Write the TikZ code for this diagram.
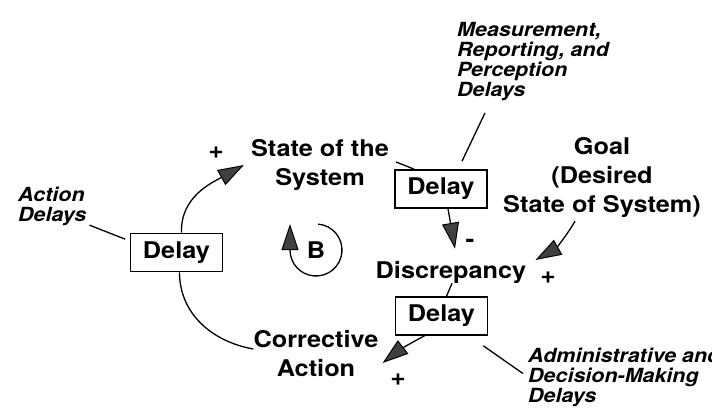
\documentclass[tikz,border=0pt]{standalone}
\usepackage{fontspec}
\setmainfont{TeX Gyre Heros}[FakeStretch=1.1]
\usetikzlibrary{arrows.meta}

\begin{document}
\begin{tikzpicture}[x=1pt,y=1pt,
  delaybox/.style={draw,line width=1.6pt,minimum width=92pt,minimum height=38pt,inner sep=0pt,font=\fontsize{23}{29}\selectfont\bfseries},
  varlabel/.style={align=center,inner sep=0pt,font=\fontsize{23}{29}\selectfont\bfseries},
  note/.style={align=left,inner sep=0pt,font=\fontsize{19.5}{20}\selectfont\bfseries\itshape},
  sign/.style={inner sep=0pt,font=\fontsize{24}{24}\selectfont\bfseries},
  link/.style={line width=1.3pt},
  causal/.style={line width=1.3pt,-{Triangle[length=26pt,width=17pt,fill=black!75,line width=1pt]}}]
\useasboundingbox (0,0) rectangle (712,408);
% delays
\node[delaybox] (dA) at (176.5,155.5) {Delay};
\node[delaybox] (dM) at (441,219) {Delay};
\node[delaybox] (dD) at (441.5,92) {Delay};
% variables
\node[varlabel] (sys) at (320,243) {State of the\\System};
\node[varlabel] (goal) at (602,231) {Goal\\(Desired\\State of System)};
\node[varlabel] (disc) at (451,136) {Discrepancy};
\node[varlabel] (corr) at (316,54) {Corrective\\Action};
\node[varlabel] (loopB) at (316,158) {B};
% notes
\node[note,anchor=north west] (meas) at (457,386) {Measurement,\\Reporting, and\\Perception\\Delays};
\node[note,anchor=north west] (actd) at (18,221) {Action\\Delays};
\node[note,anchor=north west] (admin) at (528,60) {Administrative and\\Decision-Making\\Delays};
% signs
\node[sign] (pA) at (216,255) {+};
\node[sign] (mM) at (470,165) {-};
\node[sign] (pG) at (548,130) {+};
\node[sign] (pC) at (398,28) {+};
% loop
\draw[causal] ([xshift=5pt]dA.north) to[out=92,in=209] ([xshift=-7pt]sys.west);
\draw[link] ([xshift=3pt]dA.south) to[out=-90,in=170] ([yshift=5pt]corr.west);
\draw[link] ([shift={(7pt,3pt)}]sys.east) -- ([xshift=20pt]dM.north west);
\draw[causal] ([xshift=7pt]dM.south) -- ([xshift=4pt,yshift=12pt]disc.north);
\draw[causal] ([xshift=-27pt,yshift=-4pt]goal.south) to[bend left=15] ([shift={(9pt,12pt)}]disc.east);
\draw[link] ([xshift=1pt]disc.south) -- ([xshift=5pt]dD.north);
\draw[causal] ([xshift=-17pt]dD.south) to[bend right=5] ([shift={(4pt,-9pt)}]corr.east);
\draw[causal] (loopB) ++(85:26) arc[start angle=85,end angle=-180,radius=26] -- ++(0,26);
% note lines
\draw[link] ([shift={(28pt,-12pt)}]meas.south west) -- ([xshift=21pt,yshift=8pt]dM.north);
\draw[link] ([shift={(3pt,1pt)}]actd.south east) -- ([shift={(-4.5pt,-6.5pt)}]dA.north west);
\draw[link] ([shift={(-5pt,-10pt)}]dD.south east) -- ([shift={(-5pt,4pt)}]admin.west);
\end{tikzpicture}
\end{document}
